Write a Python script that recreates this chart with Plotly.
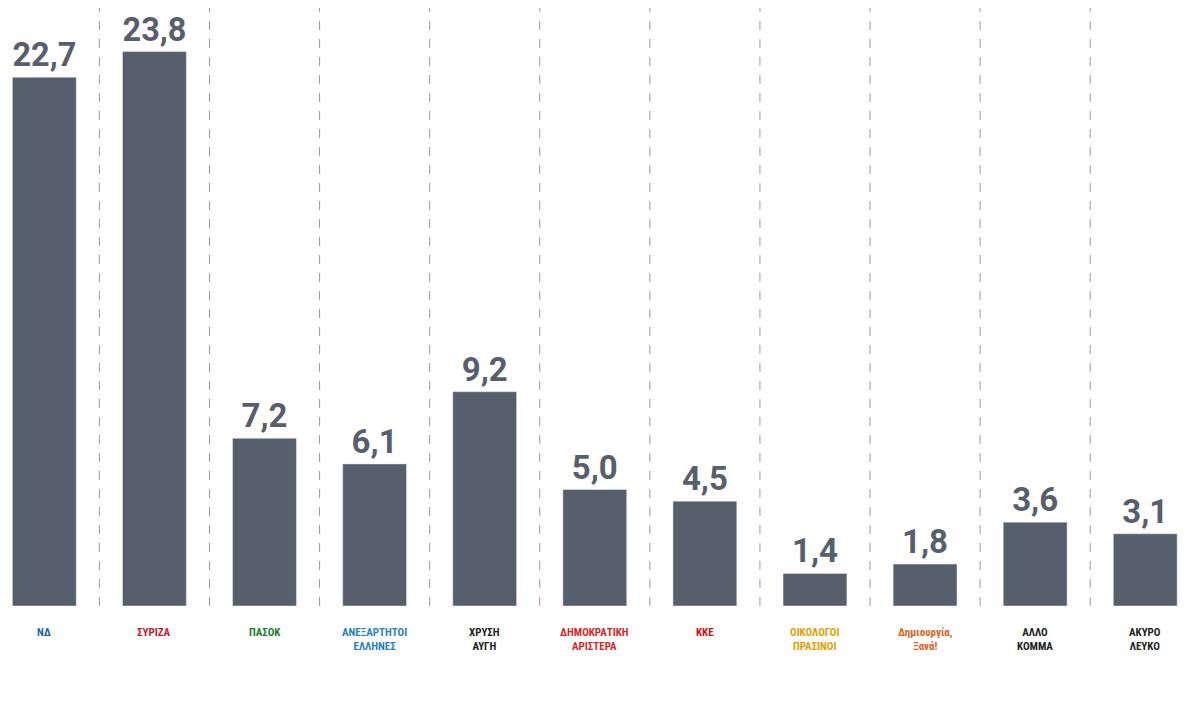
import plotly.graph_objects as go

parties = ["ΝΔ", "ΣΥΡΙΖΑ", "ΠΑΣΟΚ", "ΑΝΕΞΑΡΤΗΤΟΙ<br>ΕΛΛΗΝΕΣ", "ΧΡΥΣΗ<br>ΑΥΓΗ", "ΔΗΜΟΚΡΑΤΙΚΗ<br>ΑΡΙΣΤΕΡΑ",
           "ΚΚΕ", "ΟΙΚΟΛΟΓΟΙ<br>ΠΡΑΣΙΝΟΙ", "Δημιουργία,<br>Ξανά!", "ΑΛΛΟ<br>ΚΟΜΜΑ", "ΑΚΥΡΟ<br>ΛΕΥΚΟ"]
values = [22.7, 23.8, 7.2, 6.1, 9.2, 5.0, 4.5, 1.4, 1.8, 3.6, 3.1]
label_colors = ["#1a5fb4", "#c01c28", "#1f7a2e", "#2a7fc9", "#222222", "#d62828",
                "#d01010", "#e0a000", "#e06020", "#222222", "#222222"]

x = list(range(len(parties)))
texts = [f"{v:.1f}".replace(".", ",") for v in values]
bar_color = "#585f6c"

fig = go.Figure(go.Bar(
    x=x, y=values, width=0.58, marker_color=bar_color,
    text=texts, textposition="outside", cliponaxis=False,
    textfont=dict(family="Roboto", size=33, color=bar_color, weight="bold"),
))

shapes = []
for i in range(len(parties) - 1):
    shapes.append(dict(type="line", xref="x", yref="paper", x0=i + 0.5, x1=i + 0.5,
                       y0=0, y1=1, line=dict(color="#9a9a9a", width=1, dash="dash")))

annotations = []
for i, (p, c) in enumerate(zip(parties, label_colors)):
    annotations.append(dict(x=i, y=-0.03, xref="x", yref="paper", text=f"<b>{p}</b>",
                            showarrow=False, yanchor="top",
                            font=dict(family="Roboto Condensed, Roboto", size=11, color=c)))

fig.update_layout(
    width=1200, height=703, margin=dict(l=0, r=0, t=0, b=105),
    paper_bgcolor="white", plot_bgcolor="white", showlegend=False,
    xaxis=dict(range=[-0.33, 10.57], showticklabels=False, showgrid=False, zeroline=False),
    yaxis=dict(range=[0, 25.67], visible=False),
    shapes=shapes, annotations=annotations,
)
fig.write_html("out.html")
